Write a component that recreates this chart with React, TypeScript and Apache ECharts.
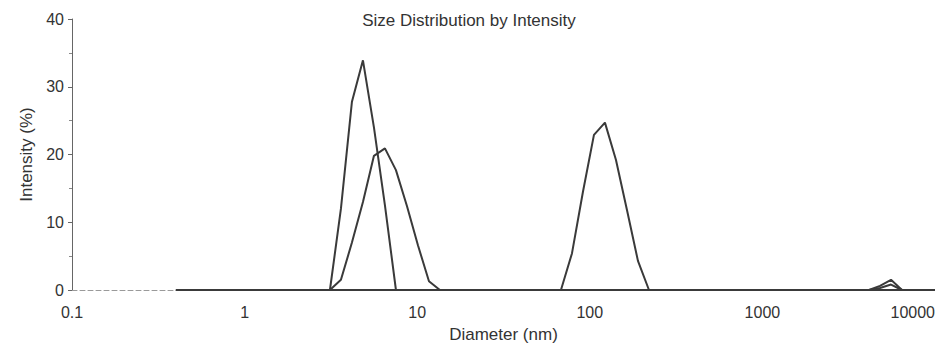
import { useEffect, useRef } from "react";
import * as echarts from "echarts";

// Size classes (nm), 70 logarithmic bins from 0.4 to 10000
const diameters = [
  0.4, 0.4632, 0.5365, 0.6213, 0.7195, 0.8332, 0.9649, 1.117, 1.294, 1.499,
  1.736, 2.01, 2.328, 2.696, 3.122, 3.615, 4.187, 4.849, 5.615, 6.503,
  7.531, 8.721, 10.1, 11.7, 13.54, 15.69, 18.17, 21.04, 24.36, 28.21,
  32.67, 37.84, 43.82, 50.75, 58.77, 68.06, 78.82, 91.28, 105.7, 122.4,
  141.8, 164.2, 190.1, 220.2, 255.0, 295.3, 342.0, 396.1, 458.7, 531.2,
  615.1, 712.4, 825.0, 955.4, 1106, 1281, 1484, 1718, 1990, 2305,
  2669, 3091, 3580, 4145, 4801, 5560, 6439, 7456, 8635, 10000,
];

// Intensity (%) per size class for each record
const recordA = [
  0, 0, 0, 0, 0, 0, 0, 0, 0, 0,
  0, 0, 0, 0, 0, 12, 27.8, 33.9, 24, 12.5,
  0, 0, 0, 0, 0, 0, 0, 0, 0, 0,
  0, 0, 0, 0, 0, 0, 0, 0, 0, 0,
  0, 0, 0, 0, 0, 0, 0, 0, 0, 0,
  0, 0, 0, 0, 0, 0, 0, 0, 0, 0,
  0, 0, 0, 0, 0.3, 0.8, 0, 0, 0, 0,
];

const recordB = [
  0, 0, 0, 0, 0, 0, 0, 0, 0, 0,
  0, 0, 0, 0, 0, 1.5, 7, 13, 19.8, 20.9,
  17.7, 12.4, 6.6, 1.3, 0, 0, 0, 0, 0, 0,
  0, 0, 0, 0, 0, 0, 0, 0, 0, 0,
  0, 0, 0, 0, 0, 0, 0, 0, 0, 0,
  0, 0, 0, 0, 0, 0, 0, 0, 0, 0,
  0, 0, 0, 0, 0.6, 1.5, 0, 0, 0, 0,
];

const recordC = [
  0, 0, 0, 0, 0, 0, 0, 0, 0, 0,
  0, 0, 0, 0, 0, 0, 0, 0, 0, 0,
  0, 0, 0, 0, 0, 0, 0, 0, 0, 0,
  0, 0, 0, 0, 0, 0, 5.4, 14.5, 22.9, 24.7,
  19.2, 11.8, 4.3, 0, 0, 0, 0, 0, 0, 0,
  0, 0, 0, 0, 0, 0, 0, 0, 0, 0,
  0, 0, 0, 0, 0, 0, 0, 0, 0, 0,
];

const xTickLabels = ["0.1", "1", "10", "100", "1000", "10000"];

const FONT = "'Liberation Sans', Arial, sans-serif";
const INK = "#333333";

export default function App() {
  const ref = useRef<HTMLDivElement>(null);

  useEffect(() => {
    document.body.style.margin = "0";
    if (!ref.current) return;
    const chart = echarts.init(ref.current, undefined, { renderer: "svg" });

    const records = [recordA, recordB, recordC];

    chart.setOption({
      animation: false,
      backgroundColor: "#ffffff",
      title: {
        text: "Size Distribution by Intensity",
        left: "center",
        top: 12,
        padding: 0,
        textStyle: {
          fontFamily: FONT,
          fontSize: 17,
          fontWeight: "normal",
          color: INK,
        },
      },
      grid: {
        left: 72,
        right: 3,
        top: 19,
        bottom: 55,
        outerBoundsMode: "none",
      },
      xAxis: {
        type: "log",
        logBase: 10,
        min: 0.1,
        max: 10000,
        name: "Diameter (nm)",
        nameLocation: "middle",
        nameGap: 36,
        nameTextStyle: { fontFamily: FONT, fontSize: 17, color: INK },
        axisLine: {
          show: true,
          lineStyle: { color: "#9a9a9a", width: 1, type: [5, 3] },
        },
        axisTick: { show: false },
        splitLine: { show: false },
        axisLabel: {
          fontFamily: FONT,
          fontSize: 16,
          color: INK,
          margin: 14,
          alignMaxLabel: "right",
          formatter: (v: number) =>
            xTickLabels[Math.round(Math.log10(v)) + 1] ?? "",
        },
      },
      yAxis: {
        type: "value",
        min: 0,
        max: 40,
        interval: 10,
        name: "Intensity (%)",
        nameLocation: "middle",
        nameGap: 36,
        nameTextStyle: { fontFamily: FONT, fontSize: 17, color: INK },
        axisLine: { show: true, lineStyle: { color: "#666666", width: 1 } },
        axisTick: {
          show: true,
          length: 4,
          lineStyle: { color: "#666666" },
        },
        minorTick: {
          show: true,
          splitNumber: 2,
          length: 3,
          lineStyle: { color: "#888888" },
        },
        splitLine: { show: false },
        axisLabel: {
          fontFamily: FONT,
          fontSize: 16,
          color: INK,
          margin: 8,
        },
      },
      series: records.map((rec, i) => ({
        name: `Record ${i + 1}`,
        type: "line",
        data: diameters.map((d, k) => [d, rec[k]]),
        showSymbol: false,
        silent: true,
        lineStyle: { color: "#3a3a3a", width: 2 },
        z: 3,
      })),
    });

    return () => chart.dispose();
  }, []);

  return <div ref={ref} style={{ width: 938, height: 345 }} />;
}
